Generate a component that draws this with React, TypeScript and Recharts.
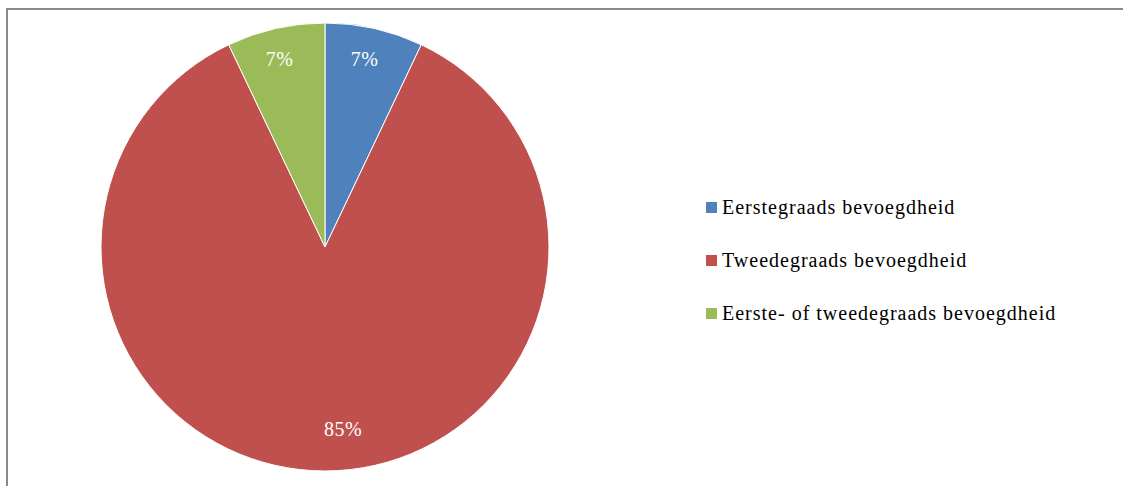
import { PieChart, Pie, Cell, Legend } from "recharts";

const categories = [
  "Eerstegraads bevoegdheid",
  "Tweedegraads bevoegdheid",
  "Eerste- of tweedegraads bevoegdheid",
];
const shares = [7, 85, 7];
const colors = ["#4F81BD", "#C0504D", "#9BBB59"];

const data = categories.map((name, i) => ({ name, value: shares[i] }));

const RAD = Math.PI / 180;
const FONT = "'Liberation Serif', 'Times New Roman', serif";

function renderLabel(props: any) {
  const { cx, cy, midAngle, outerRadius, value, index } = props;
  const r = index === 1 ? outerRadius - 42 : outerRadius - 31;
  const x = cx + r * Math.cos(-midAngle * RAD) + (index === 1 ? 18 : -3);
  const y = cy + r * Math.sin(-midAngle * RAD);
  return (
    <text
      x={x}
      y={y}
      fill="#ffffff"
      fontFamily={FONT}
      fontSize={20}
      letterSpacing={0.5}
      textAnchor="middle"
      dominantBaseline="central"
    >
      {`${value}%`}
    </text>
  );
}

function LegendList() {
  return (
    <div style={{ fontFamily: FONT, fontSize: 20, letterSpacing: 1, color: "#000" }}>
      {data.map((d, i) => (
        <div
          key={d.name}
          style={{ display: "flex", alignItems: "center", height: 53 }}
        >
          <span
            style={{
              width: 11,
              height: 11,
              background: colors[i],
              marginRight: 5,
              display: "inline-block",
            }}
          />
          <span>{d.name}</span>
        </div>
      ))}
    </div>
  );
}

export default function App() {
  return (
    <div
      style={{
        position: "absolute",
        left: 0,
        top: 0,
        width: 1123,
        height: 486,
        overflow: "hidden",
        background: "#fff",
      }}
    >
      <div
        style={{
          position: "absolute",
          left: 6,
          top: 8,
          width: 1300,
          height: 700,
          border: "2px solid #8a8a8a",
          boxSizing: "border-box",
        }}
      />
      <div style={{ position: "absolute", left: 0, top: 0 }}>
        <PieChart width={1123} height={486} margin={{ top: 0, right: 0, bottom: 0, left: 0 }}>
          <Pie
            data={data}
            dataKey="value"
            nameKey="name"
            cx={325}
            cy={247}
            outerRadius={224}
            startAngle={90}
            endAngle={-270}
            stroke="#ffffff"
            strokeWidth={1}
            label={renderLabel}
            labelLine={false}
            isAnimationActive={false}
          >
            {data.map((d, i) => (
              <Cell key={d.name} fill={colors[i]} />
            ))}
          </Pie>
          <Legend
            content={<LegendList />}
            wrapperStyle={{ position: "absolute", left: 706, top: 181, width: 420 }}
          />
        </PieChart>
      </div>
    </div>
  );
}
